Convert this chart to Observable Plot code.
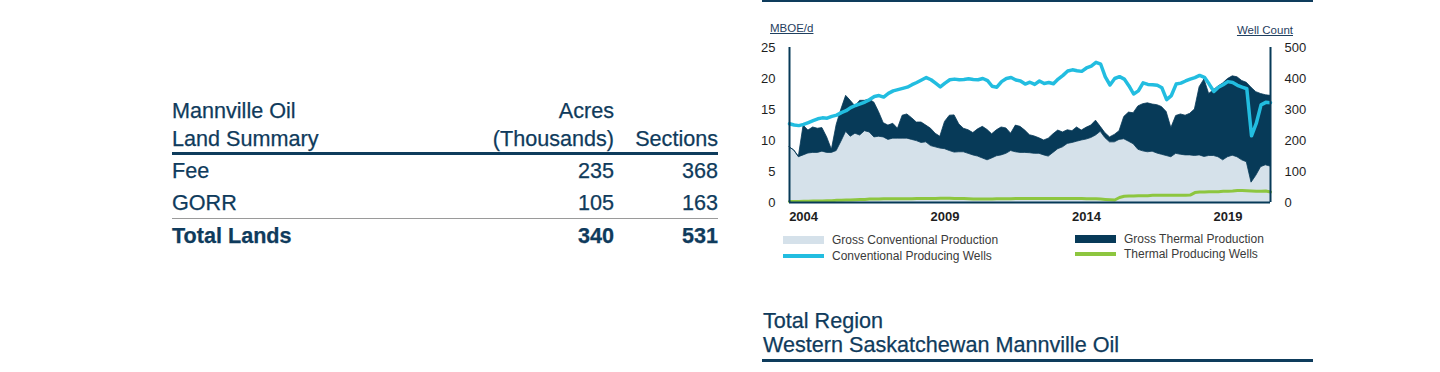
<!DOCTYPE html>
<html><head><meta charset="utf-8">
<script src="https://cdn.jsdelivr.net/npm/d3@7"></script>
<script src="https://cdn.jsdelivr.net/npm/@observablehq/plot@0.6"></script>
<style>
body{margin:0;width:1440px;height:372px;background:#fff;position:relative;overflow:hidden;font-family:"Liberation Sans",Arial,sans-serif;}
.abs{position:absolute;white-space:nowrap;}
.t{color:#0f3b5c;font-size:21.6px;height:28px;line-height:28px;-webkit-text-stroke:0.25px #0f3b5c;}
.r{text-align:right;}
.b{font-weight:bold;}
.leg{font-size:12px;color:#3a3a3a;height:16px;line-height:16px;}
.sw{position:absolute;}
.ttl{font-size:21.6px;line-height:24px;color:#0f3b5c;-webkit-text-stroke:0.25px #0f3b5c;}
</style></head><body>
<div id="table"></div>
<div class="abs" style="left:762px;top:0;width:551px;height:2px;background:#0e3c5c"></div>
<div class="abs" style="left:770px;top:21px;font-size:11.5px;line-height:14px;color:#1f4060;text-decoration:underline;">MBOE/d</div>
<div class="abs" style="left:1193px;width:100px;text-align:right;top:23px;font-size:11.5px;line-height:14px;color:#1f4060;text-decoration:underline;">Well Count</div>
<div id="chart" class="abs" style="left:740px;top:20px;"></div>
<div id="legend"></div>
<div class="abs ttl" style="left:763px;top:309px;">Total Region</div>
<div class="abs ttl" style="left:763px;top:333px;">Western Saskatchewan Mannville Oil</div>
<div class="abs" style="left:762px;top:359px;width:551px;height:3px;background:#0e3c5c"></div>
<script>
// ---- data ----
const months = [
"2004-01","2004-03","2004-05","2004-07","2004-09","2004-11",
"2005-01","2005-03","2005-05","2005-07","2005-09","2005-11",
"2006-01","2006-03","2006-05","2006-07","2006-09","2006-11",
"2007-01","2007-03","2007-05","2007-07","2007-09","2007-11",
"2008-01","2008-03","2008-05","2008-07","2008-09","2008-11",
"2009-01","2009-03","2009-05","2009-07","2009-09","2009-11",
"2010-01","2010-03","2010-05","2010-07","2010-09","2010-11",
"2011-01","2011-03","2011-05","2011-07","2011-09","2011-11",
"2012-01","2012-03","2012-05","2012-07","2012-09","2012-11",
"2013-01","2013-03","2013-05","2013-07","2013-09","2013-11",
"2014-01","2014-03","2014-05","2014-07","2014-09","2014-11",
"2015-01","2015-03","2015-05","2015-07","2015-09","2015-11",
"2016-01","2016-03","2016-05","2016-07","2016-09","2016-11",
"2017-01","2017-03","2017-05","2017-07","2017-09","2017-11",
"2018-01","2018-03","2018-05","2018-07","2018-09","2018-11",
"2019-01","2019-03","2019-05","2019-07","2019-09","2019-11",
"2020-01","2020-03","2020-05","2020-07","2020-09","2020-11",
"2021-01"];
// Gross Conventional Production, MBOE/d
const conventional = [
8.9,8.4,7.3,7.6,7.9,8.0, 8.0,8.2,8.0,8.0,8.3,9.8,
11.4,10.6,11.1,10.8,11.5,11.3, 10.5,10.6,10.5,10.1,10.3,10.3,
10.3,10.3,10.1,9.9,9.6,9.7, 9.1,8.9,8.7,8.6,8.3,8.05,
8.1,8.1,7.85,7.6,7.4,7.1, 6.8,7.1,7.45,7.6,7.85,8.3,
8.1,8.0,8.0,7.95,7.85,7.85, 7.6,7.4,8.0,8.6,8.9,9.45,
9.6,9.8,10.0,10.15,10.4,10.8, 11.4,10.4,9.7,9.7,10.1,10.2,
9.8,9.4,8.5,8.25,8.1,8.2, 7.9,7.7,7.5,7.3,7.85,7.7,
7.6,7.6,7.5,7.6,7.35,7.5, 7.5,7.3,6.8,7.3,7.55,7.3,
6.8,6.5,3.2,4.3,5.7,6.0, 5.8];
// Gross Thermal Production, MBOE/d
const thermal = [
0,0,0.1,4.8,3.7,4.1, 3.9,3.8,2.5,0.5,4.2,5.2,
5.8,5.8,4.4,5.6,4.9,5.3, 5.6,4.0,2.3,2.3,2.4,1.6,
3.7,3.9,3.5,3.0,3.3,2.7, 2.8,2.2,1.9,4.4,5.7,6.0,
4.5,3.8,3.8,3.6,4.4,5.1, 4.9,3.9,4.2,4.5,4.1,2.8,
4.3,4.2,3.6,2.9,2.8,2.5, 2.4,2.9,3.0,3.0,2.4,2.2,
1.9,2.3,1.6,1.9,2.0,2.4, 0.8,0.8,0.8,1.2,1.4,3.6,
4.7,5.0,7.0,7.6,7.9,7.6, 7.8,7.7,7.1,4.7,6.1,6.5,
6.4,6.7,7.5,11.0,12.5,10.0, 10.6,11.4,12.4,12.6,12.8,12.9,
12.8,12.8,15.3,13.5,11.8,11.3, 11.4];
// Conventional Producing Wells (count)
const conventionalWells = [
254,250,248,252,258,264, 270,273,272,278,282,290,
296,306,313,318,324,332, 342,345,340,352,360,364,
368,372,380,387,395,403, 396,385,373,385,396,398,
396,397,399,397,396,400, 393,375,372,390,400,403,
395,392,382,388,381,392, 384,387,383,398,410,424,
428,425,423,434,440,452, 446,405,379,400,406,398,
376,350,360,386,381,380, 378,370,332,345,382,385,
392,398,403,410,404,382, 358,372,380,390,387,378,
372,367,215,255,315,323, 322];
// Thermal Producing Wells (count)
const thermalWells = [
3,3,3,4,4,5, 5,5,6,6,7,7,
8,8,9,10,10,11, 11,11,12,12,12,12,
12,12,12,13,13,13, 13,13,14,14,14,13,
13,13,12,11,11,11, 11,11,12,12,12,12,
13,13,13,13,13,13, 13,13,13,13,13,13,
13,13,13,12,12,12, 11,10,9,8,16,20,
21,21,22,22,22,23, 23,23,23,23,23,23,
23,24,32,34,34,35, 35,35,36,36,37,39,
39,38,37,36,36,37, 34];
const yearLabels = ["2004","2009","2014","2019"];
const leftTicks = [0,5,10,15,20,25];
const rightTickLabels = ["0","100","200","300","400","500"];
const seriesNames = ["Gross Conventional Production","Gross Thermal Production","Conventional Producing Wells","Thermal Producing Wells"];
const seriesColors = ["#d5e1ea","#073a58","#22bde0","#8dc63f"];

const tableHeadLeft = ["Mannville Oil","Land Summary"];
const tableHeadAcres = ["Acres","(Thousands)"];
const tableHeadSections = ["","Sections"];
const landTypes = ["Fee","GORR","Total Lands"];
const acresThousands = [235,105,340];
const sections = [368,163,531];

// ---- chart ----
const data = months.map((m,i)=>({date:new Date(m+"-01T00:00:00Z"),conv:conventional[i],therm:thermal[i],cw:conventionalWells[i],tw:thermalWells[i]}));
const navy = "#073a58";
const x0 = new Date("2004-01-01T00:00:00Z"), x1 = new Date("2021-01-01T00:00:00Z");
const chart = Plot.plot({
  width:580,height:210,marginLeft:49,marginRight:50,marginTop:27,marginBottom:28,
  style:{fontFamily:"Liberation Sans, Arial, sans-serif",fontSize:"13px",color:"#1e1e1e",background:"transparent",overflow:"visible"},
  x:{type:"utc",domain:[x0,x1]},
  y:{domain:[0,25]},
  marks:[
    Plot.areaY(data,{x:"date",y1:0,y2:"conv",fill:seriesColors[0]}),
    Plot.areaY(data,{x:"date",y1:"conv",y2:d=>d.conv+d.therm,fill:seriesColors[1],stroke:seriesColors[1],strokeWidth:0.8}),
    Plot.lineY(data,{x:"date",y:d=>d.tw/20,stroke:seriesColors[3],strokeWidth:3}),
    Plot.lineY(data,{x:"date",y:d=>d.cw/20,stroke:seriesColors[2],strokeWidth:3.5}),
    Plot.ruleY([0],{stroke:navy,strokeWidth:2}),
    Plot.ruleX([x0,x1],{y1:0,y2:25,stroke:navy,strokeWidth:2}),
    Plot.axisY({anchor:"left",ticks:leftTicks,tickSize:0,tickPadding:14,label:null}),
    Plot.axisY({anchor:"right",ticks:leftTicks,tickSize:0,tickPadding:14,label:null,tickFormat:(d)=>rightTickLabels[leftTicks.indexOf(d)]}),
    Plot.axisX({ticks:yearLabels.map(y=>new Date(y+"-07-01T00:00:00Z")),tickFormat:d=>String(d.getUTCFullYear()),tickSize:0,tickPadding:9,label:null})
  ]
});
document.getElementById("chart").appendChild(chart);
d3.select(chart).selectAll('[aria-label="x-axis tick label"] text').attr("font-weight","bold");

// ---- legend ----
const leg = document.getElementById("legend");
const legPos = [
  {x:783,y:240,kind:"area"},{x:1075,y:239,kind:"area"},
  {x:783,y:256,kind:"line"},{x:1075,y:254,kind:"line"}];
seriesNames.forEach((n,i)=>{
  const p = legPos[i];
  const h = p.kind==="area"?8:4.5;
  const sw = document.createElement("div");
  sw.className="sw";
  sw.style.cssText=`left:${p.x}px;top:${p.y-h/2}px;width:41px;height:${h}px;background:${seriesColors[i]}`;
  leg.appendChild(sw);
  const t = document.createElement("div");
  t.className="abs leg";
  t.style.left=(p.x+49)+"px"; t.style.top=(p.y-8)+"px";
  t.textContent=n;
  leg.appendChild(t);
});

// ---- table ----
const tb = document.getElementById("table");
function cell(txt,left,right,cy,cls){
  const d=document.createElement("div");
  d.className="abs t "+(cls||"");
  d.style.top=(cy-14)+"px";
  if(right!==null){d.style.left=(right-200)+"px";d.style.width="200px";d.classList.add("r");}
  else d.style.left=left+"px";
  d.textContent=txt; tb.appendChild(d);
}
const headY=[111,139];
tableHeadLeft.forEach((s,i)=>cell(s,172,null,headY[i]));
tableHeadAcres.forEach((s,i)=>cell(s,null,614,headY[i]));
tableHeadSections.forEach((s,i)=>{ if(s) cell(s,null,718,headY[i]); });
const rowY=[171,203,236];
landTypes.forEach((s,i)=>{
  const cls = i===2?"b":"";
  cell(s,172,null,rowY[i],cls);
  cell(String(acresThousands[i]),null,614,rowY[i],cls);
  cell(String(sections[i]),null,718,rowY[i],cls);
});
const l1=document.createElement("div");l1.className="abs";l1.style.cssText="left:172px;top:152px;width:546px;height:3px;background:#0e3c5c";tb.appendChild(l1);
const l2=document.createElement("div");l2.className="abs";l2.style.cssText="left:172px;top:218px;width:546px;height:1px;background:#9a9a9a";tb.appendChild(l2);
</script>
</body></html>
